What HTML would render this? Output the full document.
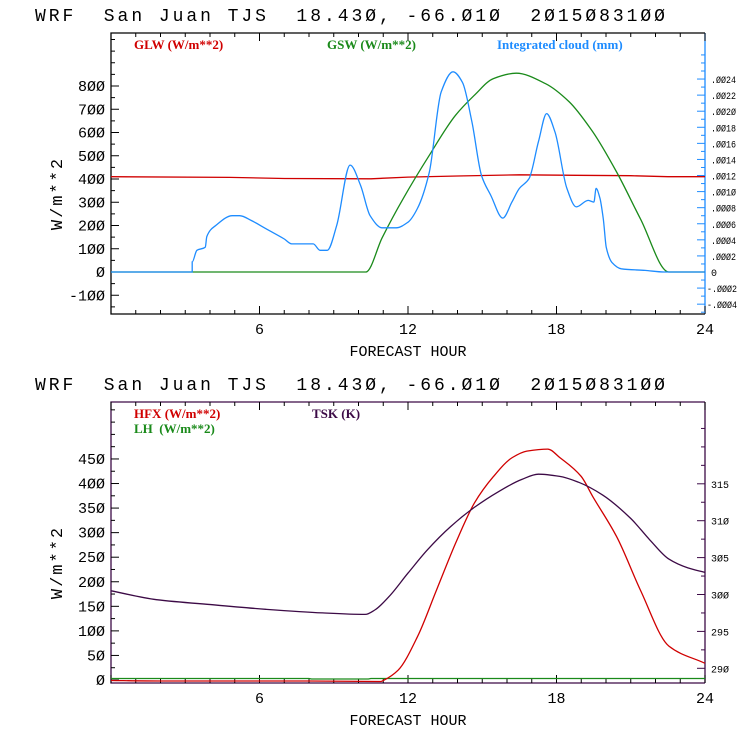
<!DOCTYPE html>
<html><head><meta charset="utf-8"><style>
body{margin:0;background:#fff}
svg{display:block;font-family:"Liberation Mono",monospace}
text{white-space:pre}
</style></head><body>
<svg id="c" width="740" height="740" viewBox="0 0 740 740"></svg>
<script>
// ---- data ----
const cloudHours=[0,3.28,3.28,3.47,3.81,3.87,4.24,4.9,5.2,5.67,6.25,7.0,7.3,8.17,8.45,8.74,9.12,9.66,10.08,10.47,10.95,11.52,12.0,12.38,12.86,13.34,13.82,14.2,14.58,14.97,15.35,15.83,16.2,16.5,16.89,17.27,17.6,17.94,18.42,18.8,19.28,19.51,19.6,19.76,19.89,20.01,20.24,20.62,21.58,22.35,24];
const cloudMM=[0,0,.000124,.00027,.00031,.00044,.00058,.0007,.0007,.00064,.00054,.00041,.00035,.00035,.00027,.00027,.00058,.00133,.00108,.0007,.00055,.00055,.00062,.00079,.00124,.00224,.00249,.00236,.00187,.0012,.00095,.00067,.00087,.00104,.00116,.00162,.00197,.00174,.00104,.00081,.00089,.00087,.00104,.00091,.00066,.00031,.00012,.00004,.00002,0,0];
const gswHours=[0,10.3,10.95,11.8,12.86,13.92,14.68,15.45,16.37,17.56,18.52,19.47,20.43,21.39,22.54,24];
const gswVals=[0,0,146,315,502,674,760,832,855,810,731,602,430,229,0,0];
const glwHours=[0,4.8,7,10.5,12,14,16.5,18.8,21,22.5,24];
const glwVals=[410,407,402,401,408,413,418,416,414,410,410];
const tskHours=[0,1.84,4.14,6.25,8.55,10.27,10.66,11.23,12.0,12.77,13.72,14.68,15.64,16.6,17.27,18.13,18.9,19.86,21.0,21.77,22.54,23.31,24];
const tskVals=[300.5,299.3,298.6,298.0,297.5,297.3,297.9,299.7,302.9,306.0,309.2,311.8,313.9,315.6,316.3,316.0,315.2,313.5,310.3,307.4,304.8,303.6,303.0];
const hfxHours=[0,2,4,8,10.9,11.04,11.6,12.38,13.15,13.92,14.68,15.45,16.22,16.8,17.65,18.13,18.99,19.47,20.43,21.39,22.54,24];
const hfxVals=[-1,-2,-2,-2,-3,0,20,88,183,278,360,414,453,466,470,453,415,373,292,183,69,34];
const lhHours=[0,8,8.1,10.4,10.5,24];
const lhVals=[3,3,2,2,3,3];
const topLeftTicks=[-100,0,100,200,300,400,500,600,700,800];
const topRightTicks=[-.0004,-.0002,0,.0002,.0004,.0006,.0008,.001,.0012,.0014,.0016,.0018,.002,.0022,.0024];
const botLeftTicks=[0,50,100,150,200,250,300,350,400,450];
const botRightTicks=[290,295,300,305,310,315];
const xTicks=[6,12,18,24];

const S=document.getElementById('c');const NS='http://www.w3.org/2000/svg';
function el(t,a,p){const e=document.createElementNS(NS,t);for(const k in a)e.setAttribute(k,a[k]);(p||S).appendChild(e);return e;}
const X0=111,X1=705;const xs=h=>X0+h*(X1-X0)/24;
function fmtR(v){if(v===0)return'0';let s=Math.abs(v).toFixed(4).replace(/^0/,'');return(v<0?'-':'')+s.replace(/0/g,'Ø');}
function z(s){return String(s).replace(/0/g,'Ø');}
function line(hs,vs,sc,col,name,smooth){
  const P=hs.map((h,i)=>[xs(h),sc(vs[i])]);const n=P.length;
  let d='M'+P[0][0].toFixed(1)+' '+P[0][1].toFixed(1);
  if(!smooth){for(let i=1;i<n;i++)d+='L'+P[i][0].toFixed(1)+' '+P[i][1].toFixed(1);}
  else{
    // monotone cubic (Fritsch-Carlson)
    const dx=[],sl=[];for(let i=0;i<n-1;i++){dx[i]=P[i+1][0]-P[i][0];sl[i]=dx[i]>0?(P[i+1][1]-P[i][1])/dx[i]:0;}
    const m=[];m[0]=sl[0];m[n-1]=sl[n-2];
    for(let i=1;i<n-1;i++){if(dx[i-1]<=0||dx[i]<=0||sl[i-1]*sl[i]<=0)m[i]=0;else{const w1=2*dx[i]+dx[i-1],w2=dx[i]+2*dx[i-1];m[i]=(w1+w2)/(w1/sl[i-1]+w2/sl[i]);}}
    for(let i=0;i<n-1;i++){const a=P[i],b=P[i+1],h=dx[i]/3;
      if(dx[i]<=0){d+='L'+b[0].toFixed(1)+' '+b[1].toFixed(1);continue;}
      d+='C'+(a[0]+h).toFixed(1)+' '+(a[1]+m[i]*h).toFixed(1)+' '+(b[0]-h).toFixed(1)+' '+(b[1]-m[i+1]*h).toFixed(1)+' '+b[0].toFixed(1)+' '+b[1].toFixed(1);}
  }
  const p=el('path',{d:d,fill:'none',stroke:col,'stroke-width':1.3});}
function txt(x,y,s,a,name){const t=el('text',Object.assign({x:x,y:y},a));t.textContent=s;return t;}

function panel(Y0,Y1,ly,lTicks,lMinor,lmin,lmax,rTicks,rMinor,rmin,rmax,rcol,rfmt,pre){
  const g=el('g',{});
  txt(35,Y0-12,'WRF  San Juan TJS  18.43Ø, -66.Ø1Ø  2Ø15Ø831ØØ',{'font-size':18,fill:'#000','textLength':630,'lengthAdjust':'spacing'},pre+'-title');
  const ys=v=>ly(v);
  el('path',{d:`M${X1} ${Y0}H${X0}V${Y1}H${X1}`,fill:'none',stroke:rcol==='#1e8cff'?'#000':rcol,'stroke-width':1.3},g);
  el('line',{x1:X1,y1:Y0,x2:X1,y2:Y1,stroke:rcol,'stroke-width':1.3},g);
  for(let h=0;h<=24;h++){const x=xs(h),L=h%6===0?8:4;el('line',{x1:x,y1:Y1,x2:x,y2:Y1-L,stroke:'#000'},g);el('line',{x1:x,y1:Y0,x2:x,y2:Y0+L,stroke:'#000'},g);}
  xTicks.forEach(h=>txt(xs(h),Y1+20,String(h),{'font-size':15,'text-anchor':'middle'},pre+'-x-tick-'+h));
  txt(408,Y1+42,'FORECAST HOUR',{'font-size':15,'text-anchor':'middle'},pre+'-x-axis-title');
  for(let v=lmin;v<=lmax;v+=lMinor){const y=ys(v);if(y<Y0||y>Y1)continue;const maj=lTicks.includes(v);el('line',{x1:X0,y1:y,x2:X0+(maj?8:4),y2:y,stroke:'#000'},g);}
  lTicks.forEach(v=>txt(105,ys(v)+5,z(v),{'font-size':15,'text-anchor':'end'},pre+'-y-tick-'+v));
  const yc=(Y0+Y1)/2+20;
  txt(0,0,'W/m**2',{'font-size':17,'text-anchor':'middle','letter-spacing':2,transform:`translate(62 ${yc}) rotate(-90)`},pre+'-y-axis-title');
  for(let i=0;rmin+i*rMinor<=rmax+1e-9;i++){const v=rmin+i*rMinor;const y=rfmt.sc(v);if(y<Y0||y>Y1)continue;const maj=rTicks.some(t=>Math.abs(t-v)<1e-9);el('line',{x1:X1,y1:y,x2:X1-(maj?8:4),y2:y,stroke:rcol},g);}
  rTicks.forEach(v=>{const s=rfmt.f(v);const a={'font-size':10,fill:'#000'};let x=711;if(s.length>=5){a.textLength=s.length*5;a.lengthAdjust='spacingAndGlyphs';}if(s.length>=6)x=707;txt(x,rfmt.sc(v)+4,s,a,pre+'-right-tick-'+v);});
  return ys;
}
const tY0=33,tY1=314;const tyl=v=>272-v*0.2325;const tyr=v=>272-v/0.0002*16.08;
panel(tY0,tY1,tyl,topLeftTicks,50,-150,1000,topRightTicks,.0001,-.0005,.0027,'#1e8cff',{sc:tyr,f:fmtR},'top');
line(glwHours,glwVals,tyl,'#d00000','glw-line',false);
line(gswHours,gswVals,tyl,'#1a8a1a','gsw-line',true);
line(cloudHours,cloudMM,tyr,'#1e8cff','cloud-line',true);
const lf={'font-family':'"Liberation Serif",serif','font-size':13,'font-weight':'bold'};
txt(134,49,'GLW (W/m**2)',Object.assign({fill:'#d00000'},lf),'legend-glw');
txt(327,49,'GSW (W/m**2)',Object.assign({fill:'#1a8a1a'},lf),'legend-gsw');
txt(497,49,'Integrated cloud (mm)',Object.assign({fill:'#1e8cff'},lf),'legend-cloud');
const bY0=402,bY1=683;const byl=v=>680-v/50*24.56;const byr=v=>668.3-(v-290)/5*36.9;
panel(bY0,bY1,byl,botLeftTicks,25,0,550,botRightTicks,2.5,287.5,322.5,'#3c0a46',{sc:byr,f:v=>z(v)},'bottom');
line(lhHours,lhVals,byl,'#1a8a1a','lh-line',false);
line(hfxHours,hfxVals,byl,'#d00000','hfx-line',true);
line(tskHours,tskVals,byr,'#3c0a46','tsk-line',true);
txt(134,418,'HFX (W/m**2)',Object.assign({fill:'#d00000'},lf),'legend-hfx');
txt(134,433,'LH  (W/m**2)',Object.assign({fill:'#1a8a1a'},lf),'legend-lh');
txt(312,418,'TSK (K)',Object.assign({fill:'#3c0a46'},lf),'legend-tsk');
</script>
</body></html>
